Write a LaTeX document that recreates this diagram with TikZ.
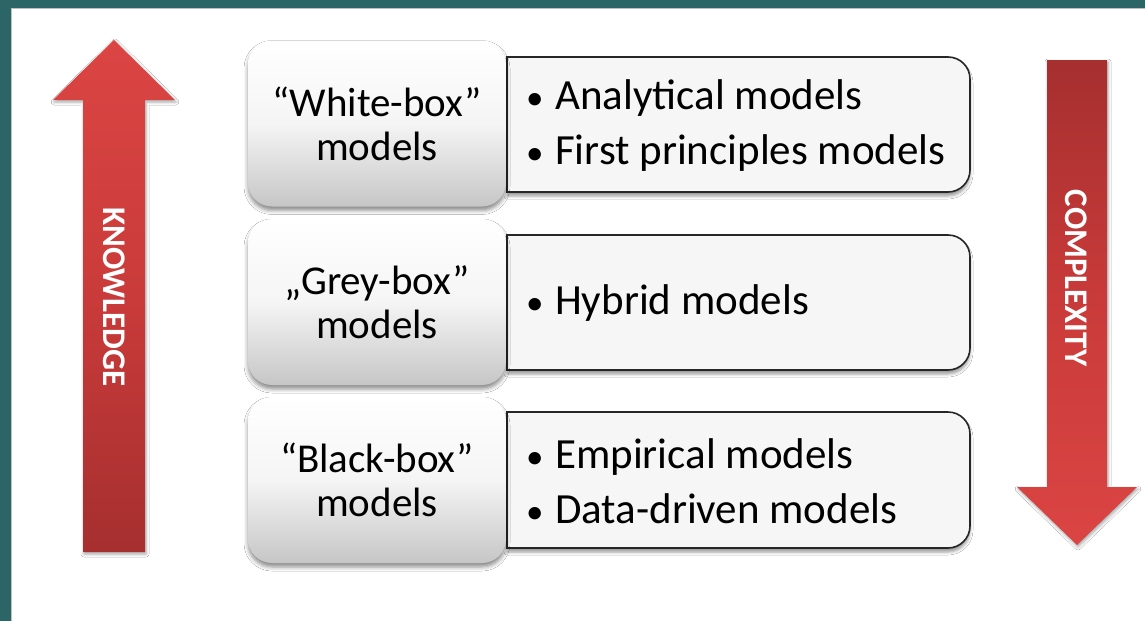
\documentclass[tikz,border=0pt]{standalone}
\usepackage{fontspec}
\setmainfont{Carlito}
\usetikzlibrary{shadows,shadows.blur}
\definecolor{frameteal}{HTML}{2B6566}
\definecolor{arrowlight}{HTML}{DB4543}
\definecolor{arrowmid}{HTML}{C93B3A}
\definecolor{arrowdark}{HTML}{A62F2F}
\definecolor{panelfill}{HTML}{F6F6F6}
\definecolor{tilebottom}{HTML}{C6C6C6}
% list bullet: a dot in a fixed-width box
\newcommand{\listdot}{\makebox[29pt][l]{\fontsize{35}{35}\selectfont•}}
\tikzset{
  tile/.style={rounded corners=24pt, top color=white, bottom color=tilebottom,
    middle color=white!96!black, minimum width=258pt, minimum height=166pt,
    align=center, font=\fontsize{41}{44}\selectfont, text=black,
    blur shadow={shadow xshift=0pt, shadow yshift=-4pt, shadow blur radius=4pt, shadow opacity=45}},
  panel/.style={fill=panelfill, draw=black!85, line width=1.6pt,
    blur shadow={shadow xshift=0pt, shadow yshift=-4pt, shadow blur radius=3pt, shadow opacity=40}},
  itemtext/.style={anchor=west, align=left, inner sep=0pt, font=\fontsize{43}{55}\selectfont, text=black},
  bigarrow/.style={blur shadow={shadow xshift=1pt, shadow yshift=-2pt, shadow blur radius=3pt, shadow opacity=35}},
  arrowlabel/.style={text=white, font=\bfseries\fontsize{33}{33}\selectfont, rotate=-90}
}
\begin{document}
\begin{tikzpicture}[x=1pt,y=-1pt]
\useasboundingbox (0,0) rectangle (1145,621);
\fill[white] (0,0) rectangle (1145,621);
% slide frame
\fill[frameteal] (0,0) rectangle (1145,8);
\fill[frameteal] (0,0) rectangle (11,621);
\draw[black!25, line width=1pt] (11.5,621) -- (11.5,8.5) -- (1145,8.5);

% knowledge arrow (pointing up)
\path[bigarrow, top color=arrowlight, bottom color=arrowdark, middle color=arrowmid]
  (83,552) -- (83,100) -- (53,100) -- (114,40) -- (175,100) -- (145,100) -- (145,552) -- cycle;
\node[arrowlabel] (know) at (114,297) {KNOWLEDGE};

% complexity arrow (pointing down)
\path[bigarrow, top color=arrowdark, bottom color=arrowlight, middle color=arrowmid]
  (1047,60) -- (1107,60) -- (1107,487) -- (1137,487) -- (1077,545) -- (1017,487) -- (1047,487) -- cycle;
\node[arrowlabel] (comp) at (1076,278) {COMPLEXITY};

% right-hand panels with the model lists
\path[panel] (507,57) -- (948,57) arc[start angle=-90, end angle=0, radius=22]
  -- (970,170) arc[start angle=0, end angle=90, radius=22] -- (507,192) -- cycle;
\path[panel] (507,235) -- (948,235) arc[start angle=-90, end angle=0, radius=22]
  -- (970,348) arc[start angle=0, end angle=90, radius=22] -- (507,370) -- cycle;
\path[panel] (507,412) -- (948,412) arc[start angle=-90, end angle=0, radius=22]
  -- (970,526) arc[start angle=0, end angle=90, radius=22] -- (507,548) -- cycle;

\node[itemtext] (wlist) at (526,125.5) {\listdot Analytical models\\\listdot First principles models};
\node[itemtext] (glist) at (526,303) {\listdot Hybrid models};
\node[itemtext] (blist) at (526,481.5) {\listdot Empirical models\\\listdot Data-driven models};

% left-hand tiles with the model classes
\node[tile] (white) at (377,123.5) {“White-box”\\models};
\node[tile] (grey) at (377,302) {„Grey-box”\\models};
\node[tile] (black) at (377,480) {“Black-box”\\models};
\end{tikzpicture}
\end{document}
